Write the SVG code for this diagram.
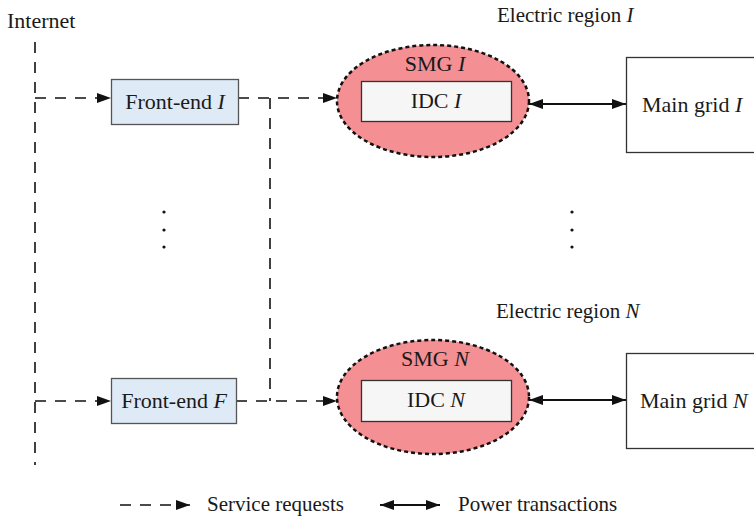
<svg xmlns="http://www.w3.org/2000/svg" width="754" height="519" viewBox="0 0 754 519">
  <defs>
    <marker id="arrow" viewBox="0 0 14 10" refX="14" refY="5" markerWidth="14" markerHeight="10" markerUnits="userSpaceOnUse" orient="auto">
      <path d="M0,0 L14,5 L0,10 Z" fill="#111"/>
    </marker>
    <marker id="arrowStart" viewBox="0 0 14 10" refX="0" refY="5" markerWidth="14" markerHeight="10" markerUnits="userSpaceOnUse" orient="auto">
      <path d="M14,0 L0,5 L14,10 Z" fill="#111"/>
    </marker>
    <style>
      text { font-family: "Liberation Serif", "Times New Roman", serif; font-size: 22px; fill: #1a1a1a; }
      .small { font-size: 21px; }
      .it { font-style: italic; }
      .req { stroke: #111; stroke-width: 1.6; fill: none; stroke-dasharray: 11 9; }
      .pow { stroke: #111; stroke-width: 2; fill: none; }
      .front { fill: #deeaf6; stroke: #555; stroke-width: 1.3; }
      .smg { fill: #f48f93; stroke: #111; stroke-width: 2.5; stroke-dasharray: 4 3; }
      .idc { fill: #f6f6f6; stroke: #333; stroke-width: 1.3; }
      .grid { fill: #fff; stroke: #333; stroke-width: 1.3; }
      .dot { fill: #111; }
    </style>
  </defs>

  <!-- connectors -->
  <g id="connectors">
    <line class="req" x1="35" y1="42" x2="35" y2="465"/>
    <line class="req" x1="35" y1="98" x2="111" y2="98" marker-end="url(#arrow)"/>
    <line class="req" x1="35" y1="401" x2="111" y2="401" marker-end="url(#arrow)"/>
    <line class="req" x1="238" y1="98" x2="337" y2="98" marker-end="url(#arrow)"/>
    <line class="req" x1="236" y1="401" x2="337" y2="401" marker-end="url(#arrow)"/>
    <line class="req" x1="270" y1="98" x2="270" y2="401"/>
    <line class="pow" x1="529" y1="104" x2="626" y2="104" marker-start="url(#arrowStart)" marker-end="url(#arrow)"/>
    <line class="pow" x1="529" y1="400" x2="626" y2="400" marker-start="url(#arrowStart)" marker-end="url(#arrow)"/>
  </g>

  <text x="7" y="28">Internet</text>
  <text class="small" x="497" y="22">Electric region <tspan class="it">I</tspan></text>
  <text class="small" x="496" y="318">Electric region <tspan class="it">N</tspan></text>

  <!-- front-ends -->
  <g id="frontend-1">
    <rect class="front" x="111.5" y="79.5" width="127" height="45"/>
    <text x="175" y="109" text-anchor="middle">Front-end <tspan class="it">I</tspan></text>
  </g>
  <g id="frontend-F">
    <rect class="front" x="111.5" y="378.5" width="125" height="45"/>
    <text x="174" y="408" text-anchor="middle">Front-end <tspan class="it">F</tspan></text>
  </g>

  <!-- ellipsis marks -->
  <g id="ellipsis-left">
    <circle class="dot" cx="164" cy="212" r="1.6"/>
    <circle class="dot" cx="164" cy="230" r="1.6"/>
    <circle class="dot" cx="164" cy="247" r="1.6"/>
  </g>
  <g id="ellipsis-right">
    <circle class="dot" cx="572" cy="212" r="1.6"/>
    <circle class="dot" cx="572" cy="230" r="1.6"/>
    <circle class="dot" cx="572" cy="247" r="1.6"/>
  </g>

  <!-- microgrids -->
  <g id="smg-1">
    <ellipse class="smg" cx="433" cy="101" rx="96" ry="56"/>
    <text x="435" y="71" text-anchor="middle">SMG <tspan class="it">I</tspan></text>
  </g>
  <g id="idc-1">
    <rect class="idc" x="361.5" y="81.5" width="150" height="40"/>
    <text x="436" y="108" text-anchor="middle">IDC <tspan class="it">I</tspan></text>
  </g>
  <g id="smg-N">
    <ellipse class="smg" cx="433" cy="397" rx="96" ry="57"/>
    <text x="435" y="366" text-anchor="middle">SMG <tspan class="it">N</tspan></text>
  </g>
  <g id="idc-N">
    <rect class="idc" x="361.5" y="380.5" width="150" height="41"/>
    <text x="436" y="407" text-anchor="middle">IDC <tspan class="it">N</tspan></text>
  </g>

  <!-- main grids -->
  <g id="main-grid-1">
    <rect class="grid" x="626.5" y="57.5" width="140" height="95"/>
    <text x="642" y="112">Main grid <tspan class="it">I</tspan></text>
  </g>
  <g id="main-grid-N">
    <rect class="grid" x="626.5" y="353.5" width="140" height="95"/>
    <text x="640" y="408">Main grid <tspan class="it">N</tspan></text>
  </g>

  <!-- legend -->
  <g id="legend">
    <line class="req" x1="120" y1="505" x2="190" y2="505" stroke-dasharray="13 8" marker-end="url(#arrow)"/>
    <text class="small" x="207" y="511">Service requests</text>
    <line class="pow" x1="380" y1="505" x2="440" y2="505" marker-start="url(#arrowStart)" marker-end="url(#arrow)"/>
    <text class="small" x="458" y="511">Power transactions</text>
  </g>
</svg>
